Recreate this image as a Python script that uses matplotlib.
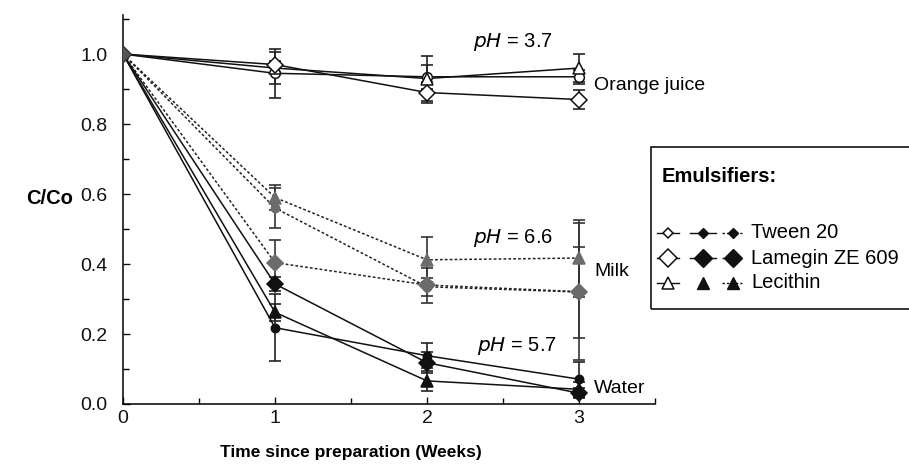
import matplotlib.pyplot as plt
from matplotlib.lines import Line2D
from matplotlib.patches import Rectangle
import numpy as np

plt.rcParams['font.family'] = ['Liberation Sans', 'DejaVu Sans']

weeks = [0, 1, 2, 3]

# orange juice (pH 3.7) - open markers, solid lines
orange_tween = [1.0, 0.945, 0.935, 0.935]
orange_tween_err = [0, 0.07, 0.035, 0.02]
orange_lamegin = [1.0, 0.97, 0.89, 0.87]
orange_lamegin_err = [0, 0.01, 0.03, 0.027]
orange_lecithin = [1.0, 0.96, 0.93, 0.96]
orange_lecithin_err = [0, 0.045, 0.065, 0.04]

# milk (pH 6.6) - grey markers, dotted lines
milk_tween = [1.0, 0.56, 0.335, 0.32]
milk_tween_err = [0, 0.058, 0.025, 0.13]
milk_lamegin = [1.0, 0.404, 0.34, 0.321]
milk_lamegin_err = [0, 0.065, 0.05, 0.195]
milk_lecithin = [1.0, 0.59, 0.412, 0.417]
milk_lecithin_err = [0, 0.036, 0.064, 0.11]

# water (pH 5.7) - black markers, solid lines
water_tween = [1.0, 0.218, 0.138, 0.071]
water_tween_err = [0, 0.095, 0.036, 0.05]
water_lamegin = [1.0, 0.343, 0.118, 0.031]
water_lamegin_err = [0, 0.02, 0.03, 0.015]
water_lecithin = [1.0, 0.262, 0.066, 0.042]
water_lecithin_err = [0, 0.025, 0.028, 0.02]

my_dpi = 100
fig = plt.figure(figsize=(909/my_dpi, 471/my_dpi), dpi=my_dpi)
ax = fig.add_axes([123/909, 1-404/471, 532/909, 389.5/471])

lw = 1.1
dot = (0, (1.8, 1.4))
grey = '#6b6b6b'
fs = 14

def series(y, err, marker, ms, face, ls, ecol='#222222', lcol='#111111'):
    ax.errorbar(weeks[1:], y[1:], yerr=err[1:], fmt='none', ecolor=ecol,
                elinewidth=1.2, capsize=4.5, capthick=1.2, zorder=2)
    ax.plot(weeks, y, color=lcol, lw=lw, linestyle=ls, zorder=3)
    ax.plot(weeks[1:], y[1:], linestyle='none', marker=marker, ms=ms,
            mfc=face, mec='#111111' if face == 'white' else face, mew=1.1, zorder=4)

series(orange_tween, orange_tween_err, 'o', 7, 'white', '-')
series(orange_lecithin, orange_lecithin_err, '^', 9, 'white', '-')
series(orange_lamegin, orange_lamegin_err, 'D', 8.5, 'white', '-')

series(milk_tween, milk_tween_err, 'o', 6, grey, dot, ecol='#333333', lcol='#222222')
series(milk_lecithin, milk_lecithin_err, '^', 8.5, grey, dot, ecol='#333333', lcol='#222222')
series(milk_lamegin, milk_lamegin_err, 'D', 8, grey, dot, ecol='#333333', lcol='#222222')

series(water_tween, water_tween_err, 'o', 6, '#111111', '-')
series(water_lecithin, water_lecithin_err, '^', 8.5, '#111111', '-')
series(water_lamegin, water_lamegin_err, 'D', 8, '#111111', '-')

ax.plot([weeks[0]], [water_lamegin[0]], marker='D', ms=8, mfc='#555555', mec='#333333', zorder=5)

ax.set_xlim(0, 3.5)
ax.set_ylim(0, 1.113)
ax.spines['top'].set_visible(False)
ax.spines['right'].set_visible(False)
ax.spines['left'].set_linewidth(1.1)
ax.spines['bottom'].set_linewidth(1.1)
ax.set_xticks([0, 1, 2, 3])
ax.set_xticks([0.5, 1.5, 2.5, 3.5], minor=True)
ax.set_yticks([0, 0.2, 0.4, 0.6, 0.8, 1.0])
ax.set_yticklabels(['0.0', '0.2', '0.4', '0.6', '0.8', '1.0'])
ax.set_yticks(np.arange(0.1, 1.11, 0.2), minor=True)
ax.tick_params(direction='in', length=5, width=1, labelsize=fs, colors='#111111')
ax.tick_params(which='minor', direction='in', length=4, width=1)
ax.tick_params(axis='x', pad=4)
ax.tick_params(axis='y', pad=11)

ax.text(2.3, 1.003, r'$pH$ = 3.7', fontsize=14.5, va='bottom')
ax.text(2.3, 0.443, r'$pH$ = 6.6', fontsize=14.5, va='bottom')
ax.text(2.33, 0.133, r'$pH$ = 5.7', fontsize=14.5, va='bottom')
ax.text(3.1, 0.91, 'Orange juice', fontsize=fs, va='center')
ax.text(3.1, 0.38, 'Milk', fontsize=fs, va='center')
ax.text(3.1, 0.045, 'Water', fontsize=fs, va='center')

fig.text(50/909, 1-198/471, 'C/Co', fontsize=14.5, fontweight='bold', ha='center', va='center')
fig.text(351/909, 1-452/471, 'Time since preparation (Weeks)', fontsize=12.5,
         fontweight='bold', ha='center', va='center')

# legend box drawn by hand
fig.add_artist(Rectangle((651/909, 1-309/471), 0.4, 162/471, transform=fig.transFigure,
                         fill=False, edgecolor='#111111', lw=1.2))
fig.text(662/909, 1-177/471, 'Emulsifiers:', fontsize=14.5, fontweight='bold', va='center')

leg_names = ['Tween 20', 'Lamegin ZE 609', 'Lecithin']
leg_rows = [233, 258, 283]
leg_markers = ['D', 'D', '^']
leg_sizes = [5, 9, 8.5]
for name, row, mk, sz in zip(leg_names, leg_rows, leg_markers, leg_sizes):
    yy = 1 - row/471
    fig.add_artist(Line2D([657/909, 679/909], [yy, yy], transform=fig.transFigure,
                          color='#111111', lw=1))
    fig.add_artist(Line2D([668/909], [yy], transform=fig.transFigure, marker=mk, ms=sz,
                          mfc='white', mec='#111111', mew=1.1))
    if name != 'Lecithin':
        fig.add_artist(Line2D([690/909, 716/909], [yy, yy], transform=fig.transFigure,
                              color='#111111', lw=1))
    fig.add_artist(Line2D([703/909], [yy], transform=fig.transFigure, marker=mk, ms=sz,
                          mfc='#111111', mec='#111111'))
    fig.add_artist(Line2D([722/909, 742/909], [yy, yy], transform=fig.transFigure,
                          color='#111111', lw=1, linestyle=dot))
    fig.add_artist(Line2D([733/909], [yy], transform=fig.transFigure, marker=mk, ms=sz,
                          mfc='#111111', mec='#111111'))
    fig.text(751/909, yy, name, fontsize=14.5, va='center')

fig.savefig('out.png', dpi=my_dpi)
